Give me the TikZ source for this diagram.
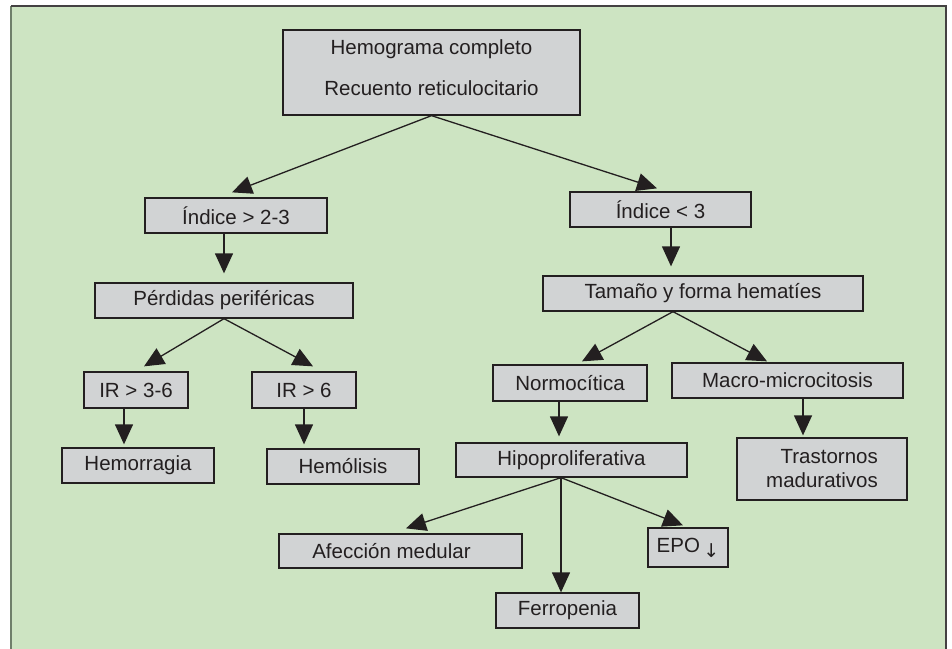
\documentclass[tikz,border=0pt]{standalone}
\usepackage{fontspec}
\setmainfont{Liberation Sans}
\newfontfamily\symfont{DejaVu Sans}
\usetikzlibrary{arrows.meta,calc}
\definecolor{bggreen}{HTML}{CDE4C2}
\definecolor{boxgray}{HTML}{D1D3D4}
\definecolor{ink}{HTML}{231F20}
\definecolor{leftedge}{HTML}{6F7F6A}
\tikzset{
  box/.style={draw=ink, fill=boxgray, line width=1.3pt, inner sep=0pt,
    text=ink, font=\fontsize{20.5}{24}\selectfont},
  arr/.style={draw=ink, line width=1.3pt, -{Triangle[length=20pt,width=18pt]}},
}
\begin{document}
\begin{tikzpicture}[x=1pt,y=-1pt]
\useasboundingbox (0,0) rectangle (952,648);
\fill[bggreen] (11,6) rectangle (946,652);
\draw[leftedge, line width=1.5pt] (11,652) -- (11,6);
\draw[ink!85, line width=1.5pt] (11,6) -- (946,6) -- (946,652);

\node[box, minimum width=297pt, minimum height=85pt, align=center,
  font=\fontsize{20.5}{41}\selectfont] (top) at (431.5,72.5)
  {Hemograma completo\\Recuento reticulocitario\rule[-9pt]{0pt}{0pt}};
\node[box, minimum width=182pt, minimum height=35pt] (i23) at (236,215.5) {Índice > 2-3};
\node[box, minimum width=181pt, minimum height=35pt] (i3) at (660.5,209.5) {Índice < 3};
\node[box, minimum width=258pt, minimum height=35pt] (perd) at (224,300.5) {Pérdidas periféricas};
\node[box, minimum width=320pt, minimum height=35pt] (tam) at (703,293.5) {Tamaño y forma hematíes};
\node[box, minimum width=104pt, minimum height=36pt] (ir36) at (136,390) {IR > 3-6};
\node[box, minimum width=104pt, minimum height=36pt] (ir6) at (304,390) {IR > 6};
\node[box, minimum width=152pt, minimum height=35pt] (hem) at (138,465.5) {Hemorragia};
\node[box, minimum width=152pt, minimum height=35pt] (hemol) at (343,466.5) {Hemólisis};
\node[box, minimum width=154pt, minimum height=36pt] (normo) at (570,383) {Normocítica};
\node[box, minimum width=231pt, minimum height=35pt] (macro) at (787.5,380.5) {Macro-microcitosis};
\node[box, minimum width=231pt, minimum height=34pt] (hipo) at (571.5,460) {Hipoproliferativa};
\node[box, minimum width=170pt, minimum height=62pt, align=right] (tras) at (822,469) {Trastornos\\madurativos};
\node[box, minimum width=243pt, minimum height=34pt] (afe) at (400.5,551) {\hspace*{-18pt}Afección medular};
\node[box, minimum width=143pt, minimum height=35pt] (ferro) at (567.5,610.5) {Ferropenia};
\node[box, minimum width=80pt, minimum height=39pt] (epo) at (688,547.5) {EPO\,\raisebox{-5pt}{\symfont\fontsize{19}{19}\selectfont ↓}};

\draw[arr] (top.south) -- ($(i23.north)+(-4,-5)$);
\draw[arr] (top.south) -- ($(i3.north)+(-3.5,-3)$);
\draw[arr] (perd.north |- i23.south) -- ($(perd.north)+(0,-9)$);
\draw[arr] ($(i3.south)+(10.5,0)$) -- ($(tam.north)+(-32,-9)$);
\draw[arr] (perd.south) -- ($(ir36.north)+(8,-5)$);
\draw[arr] (perd.south) -- ($(ir6.north)+(9,-5)$);
\draw[arr] ($(ir36.south)+(-12,0)$) -- ($(hem.north)+(-14,-3)$);
\draw[arr] (ir6.south) -- ($(hemol.north)+(-39,-4)$);
\draw[arr] ($(tam.south)+(-30,0)$) -- ($(normo.north)+(12,-3)$);
\draw[arr] ($(tam.south)+(-30,0)$) -- ($(macro.north)+(-20.5,-1)$);
\draw[arr] ($(normo.south)+(-11,0)$) -- ($(hipo.north)+(-12.5,-6)$);
\draw[arr] ($(macro.south)+(15.5,0)$) -- ($(tras.north)+(-19,-2)$);
\draw[arr] ($(hipo.south)+(-10.5,0)$) -- ($(afe.north)+(5.5,-5)$);
\draw[arr] ($(hipo.south)+(-10.5,0)$) -- ($(ferro.north)+(-6.5,0)$);
\draw[arr] ($(hipo.south)+(-10.5,0)$) -- ($(epo.north)+(-5,-2)$);
\end{tikzpicture}
\end{document}
